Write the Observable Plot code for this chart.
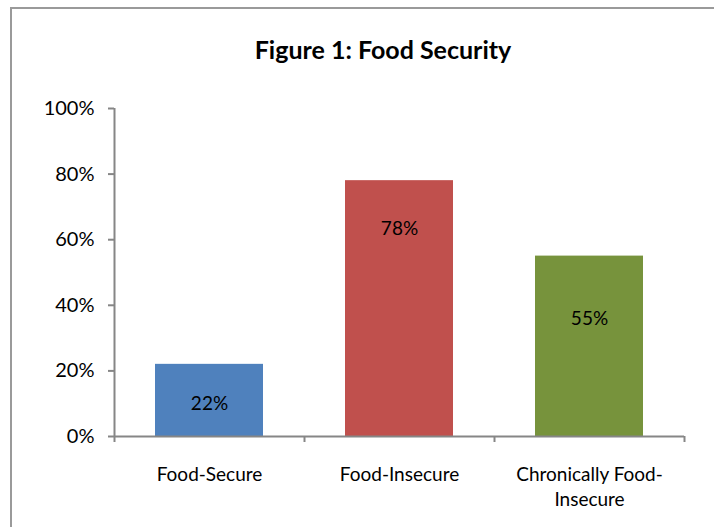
<!DOCTYPE html>
<html>
<head>
<meta charset="utf-8">
<script src="https://cdn.jsdelivr.net/npm/d3@7"></script>
<script src="https://cdn.jsdelivr.net/npm/@observablehq/plot@0.6"></script>
<style>
  html, body { margin: 0; padding: 0; background: #fff; overflow: hidden; }
  body { width: 714px; height: 527px; position: relative; font-family: Lato, "Open Sans", sans-serif; }
  #frame { position: absolute; left: 10px; top: 7px; width: 800px; height: 600px; border: 2px solid #9a9a9a; box-sizing: border-box; }
  #title { position: absolute; left: 0; top: 34px; width: 766px; text-align: center; font-size: 25px; font-weight: bold; color: #000; }
  #chart { position: absolute; left: 0; top: 80px; }
</style>
</head>
<body>
<div id="frame"></div>
<div id="title">Figure 1: Food Security</div>
<div id="chart"></div>
<script>
// Share of households in each food-security group
const categories = ["Food-Secure", "Food-Insecure", "Chronically Food-\nInsecure"];
const shares = [0.22, 0.78, 0.55];
const barColors = ["#4F81BD", "#C0504D", "#77933C"];
const yTicks = [0, 0.2, 0.4, 0.6, 0.8, 1];

const rows = categories.map((name, i) => ({name, i, share: shares[i], color: barColors[i]}));

// Vertical placement of each value label inside its bar (in share units)
const labelAt = [0.098, 0.634, 0.36];

const axisGray = "#868686";
const textSize = 19;

const chart = Plot.plot({
  width: 714,
  height: 447,
  marginLeft: 114,
  marginRight: 30,
  marginTop: 28,
  marginBottom: 91,
  style: {fontFamily: "Lato, 'Open Sans', sans-serif", fontSize: `${textSize}px`, color: "#000", background: "transparent"},
  x: {type: "linear", domain: [0, categories.length], axis: null},
  y: {domain: [0, 1], axis: null},
  marks: [
    Plot.rect(rows, {
      x1: d => d.i, x2: d => d.i + 1, y1: 0, y2: "share",
      fill: d => d.color, insetLeft: 41, insetRight: 41
    }),
    // y axis
    Plot.ruleX([0], {y1: 0, y2: 1, stroke: axisGray, strokeWidth: 2}),
    Plot.axisY(yTicks, {
      anchor: "left", tickSize: 6, tickPadding: 14, stroke: axisGray, strokeWidth: 2, label: null,
      tickFormat: d => `${Math.round(d * 100)}%`, fill: "#000", fontSize: 20
    }),
    // x axis with category boundaries
    Plot.ruleY([0], {x1: 0, x2: categories.length, stroke: axisGray, strokeWidth: 2}),
    Plot.axisX(d3.range(categories.length + 1), {
      anchor: "bottom", tickSize: 6, tickFormat: () => "", stroke: axisGray, strokeWidth: 2, label: null
    }),
    Plot.text(rows, {
      x: d => d.i + 0.5, y: 0, text: "name", dy: 27, lineAnchor: "top",
      lineHeight: 1.3, fontSize: textSize, fill: "#000"
    }),
    // value labels
    Plot.text(rows, {
      x: d => d.i + 0.5, y: d => labelAt[d.i],
      text: d => `${Math.round(d.share * 100)}%`, fontSize: textSize, fill: "#000"
    })
  ]
});
document.getElementById("chart").appendChild(chart);
</script>
</body>
</html>
